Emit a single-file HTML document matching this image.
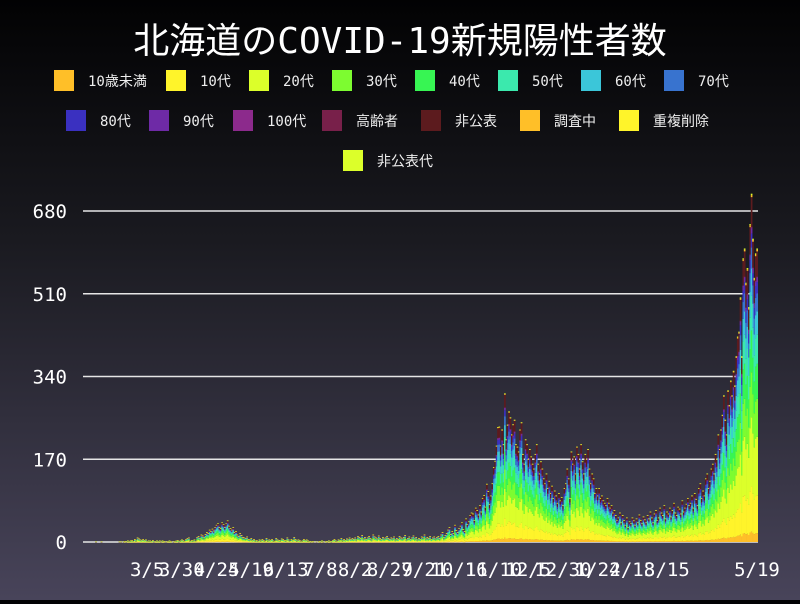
<!DOCTYPE html>
<html><head><meta charset="utf-8"><style>
html,body{margin:0;padding:0;}
body{width:800px;height:600px;overflow:hidden;background:linear-gradient(#020203 0%,#1a1a20 40%,#48445a 100%);font-family:"DejaVu Sans Mono","Liberation Mono","Noto Sans CJK JP",monospace;}
</style></head><body>
<svg id="chart" width="800" height="600" xmlns="http://www.w3.org/2000/svg">
<text x="400" y="53" text-anchor="middle" fill="#ffffff" font-size="36" font-family="DejaVu Sans Mono, Noto Sans CJK JP, monospace">北海道のCOVID-19新規陽性者数</text>
<g id="legend"></g>
<g id="grid"></g>
<g id="bars"></g>
<g id="yaxis"></g>
<g id="xaxis"></g>
</svg>
<script>
const categories=["10歳未満","10代","20代","30代","40代","50代","60代","70代","80代","90代","100代","高齢者","非公表","調査中","重複削除","非公表代"];
const colors=["#ffbf28","#fff42a","#dcff2a","#7dfc30","#37f553","#3be9ad","#3bc6d9","#3873cf","#3a30c0","#6e2aa6","#8c2a8c","#78204a","#5c1b1e","#ffbf28","#fff42a","#dcff2a"];
const shares=[0.03,0.13,0.2,0.13,0.12,0.1,0.08,0.06,0.04,0.015,0.003,0.002,0.085,0.006,0,0.004];
const yTicks=[0,170,340,510,680];
const xTickLabels=["3/5","3/30","4/24","5/19","6/13","7/8","8/2","8/27","9/21","10/16","11/10","12/5","12/30","1/24","2/18","3/15","5/19"];
const xTickDays=[0,25,50,75,100,125,150,175,200,225,250,275,300,325,350,375,440];
const totals=[
1,0,0,0,
1,0,0,0,0,0,0,0,0,0,0,0,0,1,1,0,1,2,1,3,2,3,4,2,6,3,9,7,5,
4,6,4,5,2,3,3,2,4,1,2,3,2,3,1,3,2,1,1,2,3,2,0,1,2,3,4,1,3,5,4,
2,6,8,9,2,4,3,5,2,10,12,8,15,13,10,16,20,18,25,22,27,23,30,35,38,30,28,40,36,30,
38,44,33,28,25,30,20,22,15,12,18,14,10,9,8,11,6,5,8,4,6,3,4,2,5,3,6,4,2,8,3,
5,4,6,3,2,8,5,4,3,7,6,4,3,9,5,2,6,4,10,6,3,5,4,2,3,6,4,5,3,2,
1,2,1,0,1,0,2,1,3,1,0,2,1,3,2,1,4,6,3,2,5,4,8,3,6,4,7,5,9,6,8,
6,9,5,12,10,8,14,7,10,6,9,12,8,5,15,11,9,7,13,8,6,10,7,9,12,8,6,9,7,11,5,
8,6,12,9,7,10,14,5,8,11,6,9,13,7,10,5,8,6,11,9,15,7,10,8,12,6,9,11,7,10,
12,8,15,20,10,14,18,25,30,16,22,18,35,24,20,28,33,40,26,22,48,36,42,55,60,58,45,70,65,56,75,
62,90,96,72,119,104,77,95,120,153,166,197,235,236,197,230,200,304,210,240,267,255,220,241,250,200,195,185,230,245,
180,160,210,200,170,190,175,160,150,180,200,160,140,165,150,130,120,140,110,125,100,115,90,105,95,80,100,85,92,75,110,
120,150,130,90,185,160,175,140,195,180,150,200,165,140,180,170,190,150,120,140,130,100,110,95,110,90,95,85,80,75,90,
80,70,75,60,65,55,45,50,60,40,55,45,35,50,30,42,38,50,44,35,48,40,56,45,38,52,46,40,
55,48,62,50,40,58,65,45,50,70,60,55,75,48,62,58,70,52,65,80,60,55,72,68,58,85,62,70,78,90,75,
80,95,70,100,88,75,110,120,90,105,95,130,140,110,125,150,160,140,180,170,220,190,230,260,300,250,220,310,280,330,
300,350,320,380,420,430,500,380,580,600,530,560,480,650,712,620,540,590,600
];
const NS="http://www.w3.org/2000/svg";
function mk(t,a,p){const e=document.createElementNS(NS,t);for(const k in a)e.setAttribute(k,a[k]);p.appendChild(e);return e;}
const y0=542,yMax=211,vMax=680;
function yScale(v){return y0-(v/vMax)*(y0-yMax);}
const pxPerDay=1.386,xLast=757,x35=xLast-440*pxPerDay;
function xScaleIndex(i){return xLast-(totals.length-1-i)*pxPerDay;}
function xScaleDay(d){return x35+d*pxPerDay;}
const grid=document.getElementById('grid'),yaxis=document.getElementById('yaxis');
yTicks.forEach(v=>{
 const l=mk('line',{x1:83,x2:758,y1:yScale(v),y2:yScale(v),stroke:'#e6e6e6','stroke-width':1.5},grid);
 
 
 const t=mk('text',{x:67,y:yScale(v)+7,'text-anchor':'end',fill:'#fff','font-size':19},yaxis);
 t.textContent=v;
 
 
});
const bars=document.getElementById('bars');
totals.forEach((tot,i)=>{
 const x=xScaleIndex(i)-pxPerDay/2;let acc=0;
 shares.forEach((s,c)=>{
  const v=tot*s;if(v<=0)return;
  const yt=yScale(acc+v),yb=yScale(acc);acc+=v;
  const r=mk('rect',{x:x.toFixed(2),y:yt.toFixed(2),width:(pxPerDay+0.3).toFixed(2),height:Math.max(0.6,yb-yt).toFixed(2),fill:colors[c]},bars);
  
  
 });
});
const xaxis=document.getElementById('xaxis');
xTickLabels.forEach((lab,i)=>{
 const t=mk('text',{x:xScaleDay(xTickDays[i]),y:576,'text-anchor':'middle',fill:'#fff','font-size':19},xaxis);
 t.textContent=lab;
 
 
});
const legend=document.getElementById('legend');
const lx=[54,166,249,332,415,498,581,664,66,149,233,322,421,520,619,343];
const ly=[70,70,70,70,70,70,70,70,110,110,110,110,110,110,110,150];
categories.forEach((c,i)=>{
 const g=mk('g',{},legend);
 
 
 mk('rect',{x:lx[i],y:ly[i],width:20,height:21,fill:colors[i]},g);
 const t=mk('text',{x:lx[i]+34,y:ly[i]+16,fill:'#eeeeee','font-size':14},g);
 t.textContent=c;
});
</script>
</body></html>
